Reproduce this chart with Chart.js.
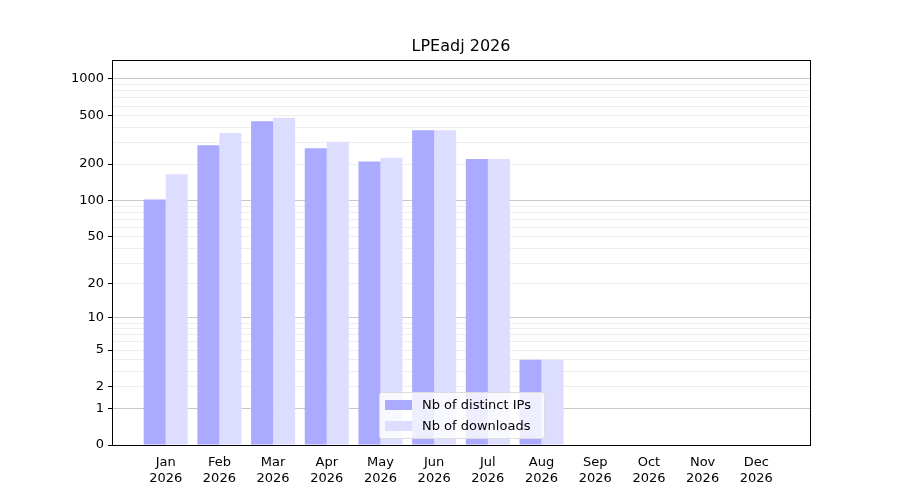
<!DOCTYPE html>
<html><head><meta charset="utf-8">
<script src="https://cdn.jsdelivr.net/npm/chart.js@4"></script>
<style>
body{margin:0;background:#fff;font-family:"DejaVu Sans";}
#wrap{position:relative;width:900px;height:500px;}
#title{position:absolute;top:36px;left:112px;width:698px;text-align:center;font-size:16px;color:#000;}
#legend{position:absolute;left:379px;top:392px;width:164px;height:45px;background:rgba(255,255,255,0.8);border:1px solid #ddd;border-radius:3px;font-size:13px;}
#legend div{position:absolute;left:5px;}
#legend span{display:inline-block;width:27px;height:10px;margin-right:10px;vertical-align:-1px;}
</style></head><body>
<div id="wrap"><canvas id="c" width="900" height="500"></canvas>
<div id="title">LPEadj 2026</div>
<div id="legend"><div style="top:4px"><span style="background:#aaaaff"></span>Nb of distinct IPs</div><div style="top:25px"><span style="background:#ddddff"></span>Nb of downloads</div></div>
</div>
<script>
const months=['Jan','Feb','Mar','Apr','May','Jun','Jul','Aug','Sep','Oct','Nov','Dec'];
const year='2026';
const ips=[102,285,450,270,210,380,220,4,0,0,0,0];
const downloads=[165,360,480,305,225,380,220,4,0,0,0,0];
const labeledTicks=[0,1,2,5,10,20,50,100,200,500,1000];
const tf=v=>Math.log10(1+v);
const allTicks=[0];
[1,10,100].forEach(d=>{for(let k=1;k<10;k++)allTicks.push(k*d);});allTicks.push(1000);
const labels=[''].concat(months.map(m=>[m,year])).concat(['']);
const pad=a=>[null].concat(a.map(tf)).concat([null]);
const frame={id:'frame',afterDraw(c){const a=c.chartArea,x=c.ctx;x.save();x.strokeStyle='#000';x.lineWidth=1;x.strokeRect(a.left+0.5,a.top+0.5,a.right-a.left,a.bottom-a.top);x.restore();}};
new Chart(document.getElementById('c'),{type:'bar',
data:{labels,datasets:[
{data:pad(ips),backgroundColor:'#aaaaff',categoryPercentage:0.82,barPercentage:1},
{data:pad(downloads),backgroundColor:'#ddddff',categoryPercentage:0.82,barPercentage:1}]},
options:{responsive:false,animation:false,layout:{padding:{top:60,right:90,left:0,bottom:0}},
plugins:{legend:{display:false},tooltip:{enabled:false}},
scales:{
x:{offset:false,grid:{display:false,drawTicks:true},border:{display:false},
 ticks:{color:'#000',font:{family:'DejaVu Sans',size:13},maxRotation:0,autoSkip:false,padding:2},
 afterFit(s){s.height=55;}},
y:{min:0,max:3.156,border:{display:false},
 afterBuildTicks(s){s.ticks=allTicks.map(v=>({value:tf(v)}));},
 afterFit(s){s.width=112;},
 grid:{color:ctx=>{const v=Math.round(Math.pow(10,ctx.tick.value)-1);return [1,10,100,1000].includes(v)?'#c8c8c8':'#eeeeee';},
  tickColor:ctx=>{const v=Math.round(Math.pow(10,ctx.tick.value)-1);return labeledTicks.includes(v)?'#000':'rgba(0,0,0,0)';},tickLength:4},
 ticks:{color:'#000',font:{family:'DejaVu Sans',size:13},autoSkip:false,padding:4,
  callback:v=>{const r=Math.round(Math.pow(10,v)-1);return labeledTicks.includes(r)?String(r):'';}}}
}},plugins:[frame]});
</script></body></html>
